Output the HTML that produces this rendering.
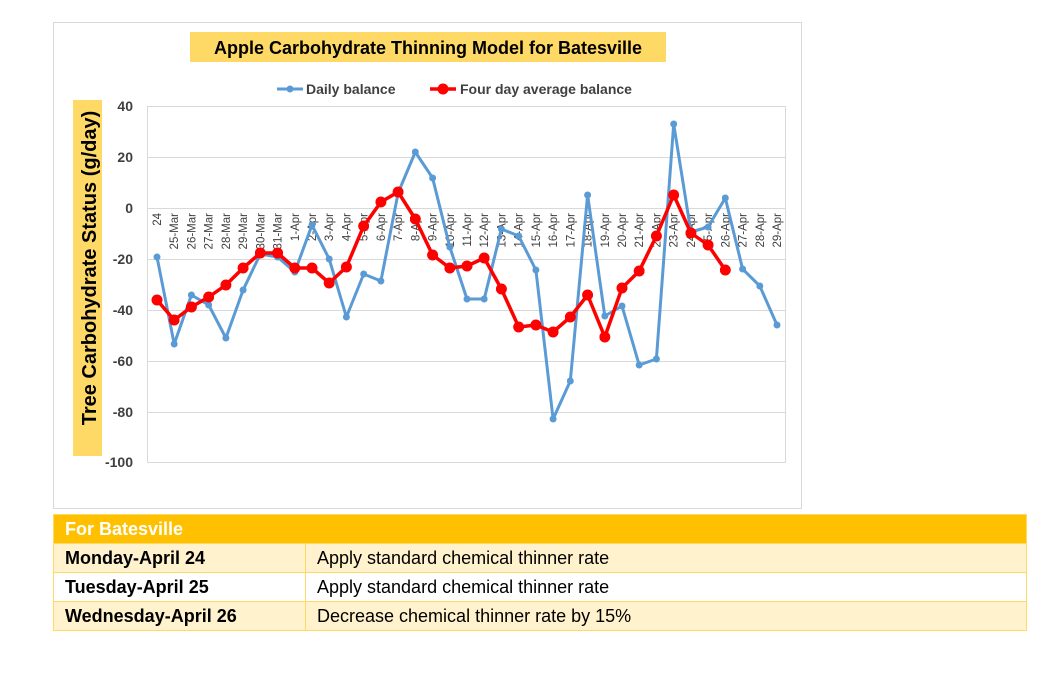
<!DOCTYPE html>
<html><head><meta charset="utf-8"><style>
body{margin:0;background:#fff;width:1056px;height:680px;position:relative;font-family:"Liberation Sans",sans-serif;overflow:hidden}
.tbl{position:absolute;left:53px;top:514px;width:974px;border-collapse:collapse;font-family:"Liberation Sans",sans-serif;font-size:18px}
.tbl td{border:1px solid #FFD966;height:28px;padding:0 0 0 11px;color:#000}
</style></head><body>
<svg width="1056" height="512" style="position:absolute;left:0;top:0">
<defs>
<marker id="mb" viewBox="0 0 10 10" refX="5" refY="5" markerWidth="7" markerHeight="7" markerUnits="userSpaceOnUse"><circle cx="5" cy="5" r="5" fill="#5B9BD5"/></marker>
<marker id="mr" viewBox="0 0 10 10" refX="5" refY="5" markerWidth="11" markerHeight="11" markerUnits="userSpaceOnUse"><circle cx="5" cy="5" r="5" fill="#FF0000"/></marker>
</defs>
<rect x="53.5" y="22.5" width="748" height="486" fill="#fff" stroke="#D9D9D9"/>
<rect x="190" y="32" width="476" height="30" fill="#FFD966"/>
<text x="428" y="54" text-anchor="middle" font-size="18" font-weight="bold" fill="#000">Apple Carbohydrate Thinning Model for Batesville</text>
<line x1="277" y1="89" x2="303" y2="89" stroke="#5B9BD5" stroke-width="3"/><circle cx="290" cy="89" r="3.5" fill="#5B9BD5"/>
<text x="306" y="94" font-size="14" font-weight="bold" fill="#404040">Daily balance</text>
<line x1="430" y1="89" x2="456" y2="89" stroke="#FF0000" stroke-width="3.5"/><circle cx="443" cy="89" r="5.5" fill="#FF0000"/>
<text x="460" y="94" font-size="14" font-weight="bold" fill="#404040">Four day average balance</text>
<rect x="73" y="100" width="29" height="356" fill="#FFD966"/>
<text transform="translate(96,268) rotate(-90)" text-anchor="middle" font-size="20" font-weight="bold" fill="#000">Tree Carbohydrate Status (g/day)</text>
<g stroke="#D9D9D9" stroke-width="1">
<line x1="147" y1="106.5" x2="785" y2="106.5"/><line x1="147" y1="157.5" x2="785" y2="157.5"/><line x1="147" y1="208.5" x2="785" y2="208.5"/><line x1="147" y1="259.5" x2="785" y2="259.5"/><line x1="147" y1="310.5" x2="785" y2="310.5"/><line x1="147" y1="361.5" x2="785" y2="361.5"/><line x1="147" y1="412.5" x2="785" y2="412.5"/><line x1="147" y1="462.5" x2="785" y2="462.5"/>
<line x1="147.5" y1="106" x2="147.5" y2="463"/><line x1="785.5" y1="106" x2="785.5" y2="463"/>
</g>
<g font-size="14" font-weight="bold" fill="#404040" text-anchor="end">
<text x="133" y="111">40</text><text x="133" y="162">20</text><text x="133" y="213">0</text><text x="133" y="264">-20</text><text x="133" y="315">-40</text><text x="133" y="366">-60</text><text x="133" y="417">-80</text><text x="133" y="467">-100</text>
</g>
<g font-size="11.5" fill="#404040" text-anchor="end">
<text transform="translate(161,213) rotate(-90)">24</text>
<text transform="translate(178.2,213) rotate(-90)">25-Mar</text>
<text transform="translate(195.4,213) rotate(-90)">26-Mar</text>
<text transform="translate(212.7,213) rotate(-90)">27-Mar</text>
<text transform="translate(229.9,213) rotate(-90)">28-Mar</text>
<text transform="translate(247.1,213) rotate(-90)">29-Mar</text>
<text transform="translate(264.3,213) rotate(-90)">30-Mar</text>
<text transform="translate(281.6,213) rotate(-90)">31-Mar</text>
<text transform="translate(298.8,213) rotate(-90)">1-Apr</text>
<text transform="translate(316,213) rotate(-90)">2-Apr</text>
<text transform="translate(333.2,213) rotate(-90)">3-Apr</text>
<text transform="translate(350.4,213) rotate(-90)">4-Apr</text>
<text transform="translate(367.7,213) rotate(-90)">5-Apr</text>
<text transform="translate(384.9,213) rotate(-90)">6-Apr</text>
<text transform="translate(402.1,213) rotate(-90)">7-Apr</text>
<text transform="translate(419.3,213) rotate(-90)">8-Apr</text>
<text transform="translate(436.6,213) rotate(-90)">9-Apr</text>
<text transform="translate(453.8,213) rotate(-90)">10-Apr</text>
<text transform="translate(471,213) rotate(-90)">11-Apr</text>
<text transform="translate(488.2,213) rotate(-90)">12-Apr</text>
<text transform="translate(505.4,213) rotate(-90)">13-Apr</text>
<text transform="translate(522.7,213) rotate(-90)">14-Apr</text>
<text transform="translate(539.9,213) rotate(-90)">15-Apr</text>
<text transform="translate(557.1,213) rotate(-90)">16-Apr</text>
<text transform="translate(574.3,213) rotate(-90)">17-Apr</text>
<text transform="translate(591.6,213) rotate(-90)">18-Apr</text>
<text transform="translate(608.8,213) rotate(-90)">19-Apr</text>
<text transform="translate(626,213) rotate(-90)">20-Apr</text>
<text transform="translate(643.2,213) rotate(-90)">21-Apr</text>
<text transform="translate(660.4,213) rotate(-90)">22-Apr</text>
<text transform="translate(677.7,213) rotate(-90)">23-Apr</text>
<text transform="translate(694.9,213) rotate(-90)">24-Apr</text>
<text transform="translate(712.1,213) rotate(-90)">25-Apr</text>
<text transform="translate(729.3,213) rotate(-90)">26-Apr</text>
<text transform="translate(746.6,213) rotate(-90)">27-Apr</text>
<text transform="translate(763.8,213) rotate(-90)">28-Apr</text>
<text transform="translate(781,213) rotate(-90)">29-Apr</text>
</g>
<polyline fill="none" stroke="#5B9BD5" stroke-width="3" stroke-linejoin="round" marker-start="url(#mb)" marker-mid="url(#mb)" marker-end="url(#mb)" points="157,257 174.2,344 191.4,295 208.7,305 225.9,338 243.1,290 260.3,254 277.6,257 294.8,272 312,225 329.2,259 346.4,317 363.7,274 380.9,281 398.1,193 415.3,152 432.6,178 449.8,247 467,299 484.2,299 501.4,229 518.7,236 535.9,270 553.1,419 570.3,381 587.6,195 604.8,316 622,306 639.2,365 656.4,359 673.7,124 690.9,232 708.1,227 725.3,198 742.6,269 759.8,286 777,325"/>
<polyline fill="none" stroke="#FF0000" stroke-width="3.5" stroke-linejoin="round" marker-start="url(#mr)" marker-mid="url(#mr)" marker-end="url(#mr)" points="157,300 174.2,320 191.4,307 208.7,297 225.9,285 243.1,268 260.3,253 277.6,253 294.8,268 312,268 329.2,283 346.4,267 363.7,226 380.9,202 398.1,192 415.3,219 432.6,255 449.8,268 467,266 484.2,258 501.4,289 518.7,327 535.9,325 553.1,332 570.3,317 587.6,295 604.8,337 622,288 639.2,271 656.4,236 673.7,195 690.9,233 708.1,245 725.3,270"/>
</svg>
<table class="tbl">
<tr><td colspan="2" style="background:#FFC000;color:#fff;font-weight:bold;height:28px">For Batesville</td></tr>
<tr style="background:#FFF2CC"><td style="width:240px;font-weight:bold">Monday-April 24</td><td>Apply standard chemical thinner rate</td></tr>
<tr style="background:#fff"><td style="font-weight:bold">Tuesday-April 25</td><td>Apply standard chemical thinner rate</td></tr>
<tr style="background:#FFF2CC"><td style="font-weight:bold">Wednesday-April 26</td><td>Decrease chemical thinner rate by 15%</td></tr>
</table>
</body></html>
